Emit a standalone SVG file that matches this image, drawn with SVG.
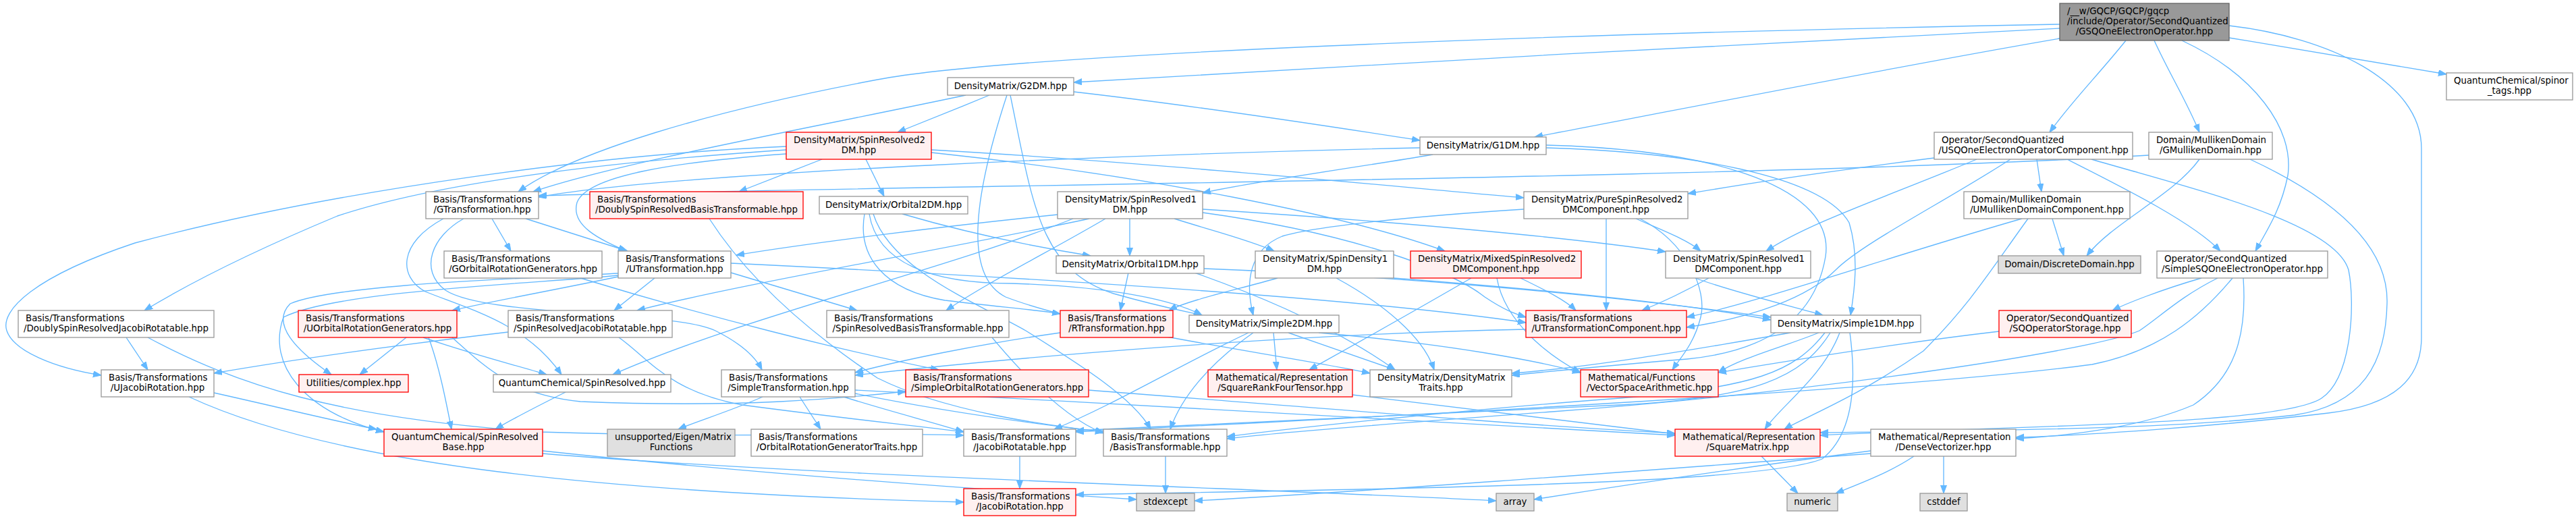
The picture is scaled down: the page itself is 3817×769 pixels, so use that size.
<svg xmlns="http://www.w3.org/2000/svg" width="3817" height="769" viewBox="0 0 3817 769">
<style>
.nd{fill:#ffffff;stroke:#999999;stroke-width:1.33}
.rd{fill:#fff0f0;stroke:#ff0000;stroke-width:1.33}
.gy{fill:#e0e0e0;stroke:#999999;stroke-width:1.33}
.rt{fill:#999999;stroke:#666666;stroke-width:1.33}
text{font-family:"DejaVu Sans","Liberation Sans",sans-serif;font-size:13.33px;fill:#000000}
.l{text-anchor:start}
.c{text-anchor:middle}
.e{fill:none;stroke:#63b8ff;stroke-width:1.33;marker-end:url(#ah)}
</style>
<defs>
<marker id="ah" markerUnits="userSpaceOnUse" markerWidth="13" markerHeight="10" refX="12" refY="4.5" orient="auto">
<path d="M0,0 L12,4.5 L0,9 z" fill="#63b8ff" stroke="#63b8ff" stroke-width="1"/>
</marker>
</defs>
<rect width="3817" height="769" fill="#ffffff"/>
<g id="edges">
<path class="e" d="M3052,42 C2700,58 1950,100 1591,122"/>
<path class="e" d="M3052,57 C2800,100 2450,170 2274,203"/>
<path class="e" d="M3052,36 C2300,50 1500,80 1300,118 C1050,165 850,225 768,284"/>
<path class="e" d="M3150,60 C3110,110 3070,150 3037,196"/>
<path class="e" d="M3192,60 C3215,110 3240,150 3259,196"/>
<path class="e" d="M3233,60 C3340,110 3400,190 3390,260 C3380,310 3360,340 3342,372"/>
<path class="e" d="M3303,56 C3420,75 3540,95 3625,110"/>
<path class="e" d="M3303,38 C3450,55 3588,120 3588,220 L3588,500 C3588,560 3550,600 3450,612 C3300,630 3100,645 2987,648"/>
<path class="e" d="M1431,141 C1200,190 920,240 790,284"/>
<path class="e" d="M1466,141 C1420,160 1370,180 1330,196"/>
<path class="e" d="M1591,136 C1800,160 2000,192 2104,208"/>
<path class="e" d="M1497,141 C1530,300 1540,400 1650,435 C1720,455 1760,462 1781,467"/>
<path class="e" d="M1492,141 C1440,300 1430,410 1490,440 C1620,490 1900,525 2030,553"/>
<path class="e" d="M1218,236 L1095,284"/>
<path class="e" d="M1283,236 L1310,291"/>
<path class="e" d="M1165,222 C900,240 650,270 500,320 C380,370 280,420 214,460"/>
<path class="e" d="M1165,217 C900,228 500,280 200,360 C50,410 0,460 10,490 C20,520 80,545 150,556"/>
<path class="e" d="M1165,228 C1000,240 870,260 855,300 C845,335 890,355 928,372"/>
<path class="e" d="M1380,222 C1700,240 2050,275 2258,293"/>
<path class="e" d="M1380,226 C1700,260 2000,320 2141,372"/>
<path class="e" d="M2104,219 C1700,228 1000,255 798,292"/>
<path class="e" d="M2123,229 C2000,250 1850,270 1782,286"/>
<path class="e" d="M2291,219 C2500,225 2700,260 2740,330 C2755,380 2748,430 2742,467"/>
<path class="e" d="M2291,215 C2550,222 2720,280 2705,380 C2690,470 2620,520 2500,532 C2400,540 2300,550 2240,556"/>
<path class="e" d="M2866,234 C2700,255 2600,270 2501,287"/>
<path class="e" d="M2929,236 C2800,290 2680,330 2617,372"/>
<path class="e" d="M2979,236 C2880,300 2760,360 2720,400 C2680,440 2600,470 2499,485"/>
<path class="e" d="M3018,236 L3025,284"/>
<path class="e" d="M3063,236 C3150,280 3250,330 3290,372"/>
<path class="e" d="M3099,236 C3250,280 3460,330 3480,400 C3490,450 3485,560 3440,590 C3380,630 3000,630 2697,645"/>
<path class="e" d="M3184,230 C2600,265 1300,275 798,290"/>
<path class="e" d="M3259,236 C3220,290 3130,330 3092,379"/>
<path class="e" d="M3334,236 C3450,290 3540,360 3537,450 C3535,540 3500,600 3400,615 C3200,638 2900,638 2697,641"/>
<path class="e" d="M729,324 L757,372"/>
<path class="e" d="M779,324 L930,372"/>
<path class="e" d="M687,324 C640,350 620,400 660,430 C720,470 1000,460 1060,490 C1100,510 1120,530 1129,548"/>
<path class="e" d="M657,324 C590,360 590,410 630,432 C700,460 780,480 832,555"/>
<path class="e" d="M1051,324 C1100,400 1180,480 1300,560 C1400,610 1550,630 1635,640"/>
<path class="e" d="M1337,317 C1450,350 1560,370 1616,379"/>
<path class="e" d="M1281,317 C1270,380 1310,430 1400,445 C1480,455 1530,458 1571,465"/>
<path class="e" d="M1294,317 C1320,400 1450,450 1520,490 C1600,540 1680,590 1705,636"/>
<path class="e" d="M1288,317 C1300,390 1380,420 1500,420 C1650,425 1740,445 1781,467"/>
<path class="e" d="M1674,324 L1674,379"/>
<path class="e" d="M1740,324 C1790,340 1850,355 1888,372"/>
<path class="e" d="M1567,318 C1400,335 1200,360 1091,378"/>
<path class="e" d="M1614,324 C1400,370 1100,420 944,460"/>
<path class="e" d="M1638,324 C1560,370 1460,420 1402,460"/>
<path class="e" d="M1590,324 C1400,400 1100,470 908,555"/>
<path class="e" d="M1782,310 C2100,330 2350,355 2468,373"/>
<path class="e" d="M1782,315 C2000,345 2150,400 2200,440 C2230,460 2245,465 2261,470"/>
<path class="e" d="M2380,324 L2380,460"/>
<path class="e" d="M2424,324 C2460,340 2500,355 2520,372"/>
<path class="e" d="M2258,310 C2100,320 1950,335 1900,350 C1850,370 1845,420 1857,467"/>
<path class="e" d="M2430,324 C2500,360 2530,430 2520,470 C2510,510 2490,530 2478,548"/>
<path class="e" d="M3041,324 L3058,379"/>
<path class="e" d="M2996,324 C2800,380 2600,450 2499,470"/>
<path class="e" d="M3005,324 C2950,400 2920,450 2850,520 C2750,590 2670,620 2644,636"/>
<path class="e" d="M187,500 L219,548"/>
<path class="e" d="M219,500 C350,570 500,620 800,640 C1100,650 1300,640 1428,645"/>
<path class="e" d="M860,412 C1050,470 1250,520 1391,548"/>
<path class="e" d="M1672,404 L1660,460"/>
<path class="e" d="M1784,398 C2100,410 2400,440 2624,470"/>
<path class="e" d="M1770,404 C1900,450 2000,500 2067,548"/>
<path class="e" d="M1893,412 C1830,430 1760,445 1732,460"/>
<path class="e" d="M1980,412 C2050,450 2110,500 2125,548"/>
<path class="e" d="M2065,412 C2300,430 2500,450 2624,474"/>
<path class="e" d="M2180,412 C2080,470 1990,520 1940,548"/>
<path class="e" d="M2253,412 C2290,430 2320,445 2335,460"/>
<path class="e" d="M2218,412 C2230,480 2300,530 2342,552"/>
<path class="e" d="M2532,412 C2500,430 2470,445 2433,460"/>
<path class="e" d="M2512,412 C2560,430 2640,450 2701,467"/>
<path class="e" d="M3262,412 C3200,430 3150,450 3130,460"/>
<path class="e" d="M3286,412 C3230,440 3200,470 3170,490 C3100,520 2700,580 2300,610 C2100,625 1900,640 1818,650"/>
<path class="e" d="M3308,412 C3260,470 3200,520 3100,540 C2800,580 2000,620 1594,640"/>
<path class="e" d="M3324,412 C3330,500 3310,560 3250,600 C3180,630 3080,645 2987,650"/>
<path class="e" d="M602,500 L533,555"/>
<path class="e" d="M627,500 C700,525 760,540 810,555"/>
<path class="e" d="M635,500 C650,540 660,590 669,636"/>
<path class="e" d="M670,500 C720,545 760,585 860,595 C1100,605 1250,590 1342,580"/>
<path class="e" d="M916,405 C800,412 500,420 430,450 C400,480 440,520 491,555"/>
<path class="e" d="M916,408 C800,420 500,430 420,470 C395,540 450,610 569,640"/>
<path class="e" d="M916,410 C820,430 720,448 670,460"/>
<path class="e" d="M970,412 L910,460"/>
<path class="e" d="M1083,404 L1270,460"/>
<path class="e" d="M1083,390 C1500,410 2000,440 2261,478"/>
<path class="e" d="M753,492 C600,510 450,530 317,553"/>
<path class="e" d="M917,500 C960,530 990,580 1100,600 C1250,620 1350,630 1428,640"/>
<path class="e" d="M1470,500 C1520,560 1580,620 1635,642"/>
<path class="e" d="M1571,493 C1450,510 1330,535 1267,552"/>
<path class="e" d="M1909,493 L2067,548"/>
<path class="e" d="M1887,493 L1892,548"/>
<path class="e" d="M1954,493 C2150,510 2280,535 2342,552"/>
<path class="e" d="M1850,493 C1750,540 1650,600 1562,636"/>
<path class="e" d="M1857,493 C1790,540 1750,590 1734,636"/>
<path class="e" d="M2261,488 C1900,495 1500,530 1267,556"/>
<path class="e" d="M2653,493 C2500,520 2350,545 2240,553"/>
<path class="e" d="M2695,493 C2640,515 2580,530 2546,552"/>
<path class="e" d="M2704,493 C2660,550 2600,575 2400,590 C2200,605 1950,630 1818,647"/>
<path class="e" d="M2712,493 C2670,560 2600,590 2400,600 C2100,615 1800,630 1594,638"/>
<path class="e" d="M2726,493 C2700,560 2640,600 2615,636"/>
<path class="e" d="M2741,493 C2750,560 2750,640 2700,680 C2600,720 2000,725 1594,733"/>
<path class="e" d="M2962,491 C2800,510 2650,535 2546,552"/>
<path class="e" d="M317,582 C420,605 500,625 558,636"/>
<path class="e" d="M280,588 C500,690 900,730 1428,744"/>
<path class="e" d="M838,581 C800,600 760,620 734,636"/>
<path class="e" d="M1130,588 C1080,610 1030,625 1005,636"/>
<path class="e" d="M1185,588 L1216,636"/>
<path class="e" d="M1250,588 C1320,610 1380,625 1428,640"/>
<path class="e" d="M1267,583 C1400,610 1550,630 1635,640"/>
<path class="e" d="M1267,578 C1700,600 2200,630 2482,645"/>
<path class="e" d="M1613,578 C1900,600 2250,630 2482,642"/>
<path class="e" d="M2004,585 C2200,610 2380,630 2482,643"/>
<path class="e" d="M804,668 C1100,700 1450,725 1684,740"/>
<path class="e" d="M804,672 C1200,705 1900,725 2217,742"/>
<path class="e" d="M1511,676 L1511,724"/>
<path class="e" d="M1727,676 L1727,731"/>
<path class="e" d="M2610,676 L2664,731"/>
<path class="e" d="M2836,676 C2800,700 2760,715 2720,731"/>
<path class="e" d="M2880,676 L2880,731"/>
<path class="e" d="M2772,668 C2600,690 2400,720 2273,740"/>
<path class="e" d="M2772,672 C2400,700 2000,730 1770,742"/>
</g>
<g id="n_root"><rect class="rt" x="3052" y="5" width="251" height="55"/><text class="l" x="3063" y="21">/__w/GQCP/GQCP/gqcp</text><text class="l" x="3063" y="36">/include/Operator/SecondQuantized</text><text class="c" x="3177.5" y="51">/GSQOneElectronOperator.hpp</text></g>
<g id="n_G2DM"><rect class="nd" x="1404" y="115" width="187" height="26"/><text class="c" x="1497.5" y="132">DensityMatrix/G2DM.hpp</text></g>
<g id="n_spinor"><rect class="nd" x="3625" y="108" width="187" height="40"/><text class="l" x="3636" y="124">QuantumChemical/spinor</text><text class="c" x="3718.5" y="139">_tags.hpp</text></g>
<g id="n_SR2DM"><rect class="rd" x="1165" y="196" width="215" height="40"/><text class="l" x="1176" y="212">DensityMatrix/SpinResolved2</text><text class="c" x="1272.5" y="227">DM.hpp</text></g>
<g id="n_G1DM"><rect class="nd" x="2104" y="203" width="187" height="26"/><text class="c" x="2197.5" y="220">DensityMatrix/G1DM.hpp</text></g>
<g id="n_USQ"><rect class="nd" x="2866" y="196" width="294" height="40"/><text class="l" x="2877" y="212">Operator/SecondQuantized</text><text class="c" x="3013" y="227">/USQOneElectronOperatorComponent.hpp</text></g>
<g id="n_GMull"><rect class="nd" x="3184" y="196" width="183" height="40"/><text class="l" x="3195" y="212">Domain/MullikenDomain</text><text class="c" x="3275.5" y="227">/GMullikenDomain.hpp</text></g>
<g id="n_GTr"><rect class="nd" x="631" y="284" width="167" height="40"/><text class="l" x="642" y="300">Basis/Transformations</text><text class="c" x="714.5" y="315">/GTransformation.hpp</text></g>
<g id="n_DSRBT"><rect class="rd" x="874" y="284" width="316" height="40"/><text class="l" x="885" y="300">Basis/Transformations</text><text class="c" x="1032" y="315">/DoublySpinResolvedBasisTransformable.hpp</text></g>
<g id="n_Orb2"><rect class="nd" x="1214" y="291" width="220" height="26"/><text class="c" x="1324" y="308">DensityMatrix/Orbital2DM.hpp</text></g>
<g id="n_SR1DM"><rect class="nd" x="1567" y="284" width="215" height="40"/><text class="l" x="1578" y="300">DensityMatrix/SpinResolved1</text><text class="c" x="1674.5" y="315">DM.hpp</text></g>
<g id="n_Pure"><rect class="nd" x="2258" y="284" width="243" height="40"/><text class="l" x="2269" y="300">DensityMatrix/PureSpinResolved2</text><text class="c" x="2379.5" y="315">DMComponent.hpp</text></g>
<g id="n_UMullC"><rect class="nd" x="2910" y="284" width="246" height="40"/><text class="l" x="2921" y="300">Domain/MullikenDomain</text><text class="c" x="3033" y="315">/UMullikenDomainComponent.hpp</text></g>
<g id="n_DSRJR"><rect class="nd" x="27" y="460" width="290" height="40"/><text class="l" x="38" y="476">Basis/Transformations</text><text class="c" x="172" y="491">/DoublySpinResolvedJacobiRotatable.hpp</text></g>
<g id="n_GORG"><rect class="nd" x="658" y="372" width="234" height="40"/><text class="l" x="669" y="388">Basis/Transformations</text><text class="c" x="775" y="403">/GOrbitalRotationGenerators.hpp</text></g>
<g id="n_UTr"><rect class="nd" x="916" y="372" width="167" height="40"/><text class="l" x="927" y="388">Basis/Transformations</text><text class="c" x="999.5" y="403">/UTransformation.hpp</text></g>
<g id="n_Orb1"><rect class="nd" x="1565" y="379" width="219" height="26"/><text class="c" x="1674.5" y="396">DensityMatrix/Orbital1DM.hpp</text></g>
<g id="n_SD1"><rect class="nd" x="1860" y="372" width="205" height="40"/><text class="l" x="1871" y="388">DensityMatrix/SpinDensity1</text><text class="c" x="1962.5" y="403">DM.hpp</text></g>
<g id="n_Mixed"><rect class="rd" x="2090" y="372" width="253" height="40"/><text class="l" x="2101" y="388">DensityMatrix/MixedSpinResolved2</text><text class="c" x="2216.5" y="403">DMComponent.hpp</text></g>
<g id="n_SR1C"><rect class="nd" x="2468" y="372" width="215" height="40"/><text class="l" x="2479" y="388">DensityMatrix/SpinResolved1</text><text class="c" x="2575.5" y="403">DMComponent.hpp</text></g>
<g id="n_Disc"><rect class="gy" x="2961" y="379" width="211" height="26"/><text class="c" x="3066.5" y="396">Domain/DiscreteDomain.hpp</text></g>
<g id="n_SSQ"><rect class="nd" x="3196" y="372" width="253" height="40"/><text class="l" x="3207" y="388">Operator/SecondQuantized</text><text class="c" x="3322.5" y="403">/SimpleSQOneElectronOperator.hpp</text></g>
<g id="n_UORG"><rect class="rd" x="442" y="460" width="235" height="40"/><text class="l" x="453" y="476">Basis/Transformations</text><text class="c" x="559.5" y="491">/UOrbitalRotationGenerators.hpp</text></g>
<g id="n_SRJR"><rect class="nd" x="753" y="460" width="243" height="40"/><text class="l" x="764" y="476">Basis/Transformations</text><text class="c" x="874.5" y="491">/SpinResolvedJacobiRotatable.hpp</text></g>
<g id="n_SRBT"><rect class="nd" x="1225" y="460" width="270" height="40"/><text class="l" x="1236" y="476">Basis/Transformations</text><text class="c" x="1360" y="491">/SpinResolvedBasisTransformable.hpp</text></g>
<g id="n_RTr"><rect class="rd" x="1571" y="460" width="167" height="40"/><text class="l" x="1582" y="476">Basis/Transformations</text><text class="c" x="1654.5" y="491">/RTransformation.hpp</text></g>
<g id="n_S2DM"><rect class="nd" x="1762" y="467" width="222" height="26"/><text class="c" x="1873" y="484">DensityMatrix/Simple2DM.hpp</text></g>
<g id="n_UTC"><rect class="rd" x="2261" y="460" width="238" height="40"/><text class="l" x="2272" y="476">Basis/Transformations</text><text class="c" x="2380" y="491">/UTransformationComponent.hpp</text></g>
<g id="n_S1DM"><rect class="nd" x="2624" y="467" width="222" height="26"/><text class="c" x="2735" y="484">DensityMatrix/Simple1DM.hpp</text></g>
<g id="n_SQOS"><rect class="rd" x="2962" y="460" width="196" height="40"/><text class="l" x="2973" y="476">Operator/SecondQuantized</text><text class="c" x="3060" y="491">/SQOperatorStorage.hpp</text></g>
<g id="n_UJR"><rect class="nd" x="150" y="548" width="167" height="40"/><text class="l" x="161" y="564">Basis/Transformations</text><text class="c" x="233.5" y="579">/UJacobiRotation.hpp</text></g>
<g id="n_cplx"><rect class="rd" x="443" y="555" width="162" height="26"/><text class="c" x="524" y="572">Utilities/complex.hpp</text></g>
<g id="n_SR"><rect class="nd" x="731" y="555" width="263" height="26"/><text class="c" x="862.5" y="572">QuantumChemical/SpinResolved.hpp</text></g>
<g id="n_STr"><rect class="nd" x="1069" y="548" width="198" height="40"/><text class="l" x="1080" y="564">Basis/Transformations</text><text class="c" x="1168" y="579">/SimpleTransformation.hpp</text></g>
<g id="n_SORG"><rect class="rd" x="1342" y="548" width="271" height="40"/><text class="l" x="1353" y="564">Basis/Transformations</text><text class="c" x="1477.5" y="579">/SimpleOrbitalRotationGenerators.hpp</text></g>
<g id="n_SRFT"><rect class="rd" x="1790" y="548" width="214" height="40"/><text class="l" x="1801" y="564">Mathematical/Representation</text><text class="c" x="1897" y="579">/SquareRankFourTensor.hpp</text></g>
<g id="n_DMT"><rect class="nd" x="2030" y="548" width="210" height="40"/><text class="l" x="2041" y="564">DensityMatrix/DensityMatrix</text><text class="c" x="2135" y="579">Traits.hpp</text></g>
<g id="n_VSA"><rect class="rd" x="2342" y="548" width="204" height="40"/><text class="l" x="2353" y="564">Mathematical/Functions</text><text class="c" x="2444" y="579">/VectorSpaceArithmetic.hpp</text></g>
<g id="n_SRB"><rect class="rd" x="569" y="636" width="235" height="40"/><text class="l" x="580" y="652">QuantumChemical/SpinResolved</text><text class="c" x="686.5" y="667">Base.hpp</text></g>
<g id="n_EMF"><rect class="gy" x="900" y="636" width="189" height="40"/><text class="l" x="911" y="652">unsupported/Eigen/Matrix</text><text class="c" x="994.5" y="667">Functions</text></g>
<g id="n_ORGT"><rect class="nd" x="1113" y="636" width="254" height="40"/><text class="l" x="1124" y="652">Basis/Transformations</text><text class="c" x="1240" y="667">/OrbitalRotationGeneratorTraits.hpp</text></g>
<g id="n_JRt"><rect class="nd" x="1428" y="636" width="166" height="40"/><text class="l" x="1439" y="652">Basis/Transformations</text><text class="c" x="1511" y="667">/JacobiRotatable.hpp</text></g>
<g id="n_BT"><rect class="nd" x="1635" y="636" width="183" height="40"/><text class="l" x="1646" y="652">Basis/Transformations</text><text class="c" x="1726.5" y="667">/BasisTransformable.hpp</text></g>
<g id="n_SQM"><rect class="rd" x="2482" y="636" width="215" height="40"/><text class="l" x="2493" y="652">Mathematical/Representation</text><text class="c" x="2589.5" y="667">/SquareMatrix.hpp</text></g>
<g id="n_DV"><rect class="nd" x="2772" y="636" width="215" height="40"/><text class="l" x="2783" y="652">Mathematical/Representation</text><text class="c" x="2879.5" y="667">/DenseVectorizer.hpp</text></g>
<g id="n_JR"><rect class="rd" x="1428" y="724" width="166" height="40"/><text class="l" x="1439" y="740">Basis/Transformations</text><text class="c" x="1511" y="755">/JacobiRotation.hpp</text></g>
<g id="n_stdx"><rect class="gy" x="1684" y="731" width="86" height="26"/><text class="c" x="1727" y="748">stdexcept</text></g>
<g id="n_arr"><rect class="gy" x="2217" y="731" width="56" height="26"/><text class="c" x="2245" y="748">array</text></g>
<g id="n_num"><rect class="gy" x="2648" y="731" width="75" height="26"/><text class="c" x="2685.5" y="748">numeric</text></g>
<g id="n_cst"><rect class="gy" x="2845" y="731" width="70" height="26"/><text class="c" x="2880" y="748">cstddef</text></g>
</svg>
